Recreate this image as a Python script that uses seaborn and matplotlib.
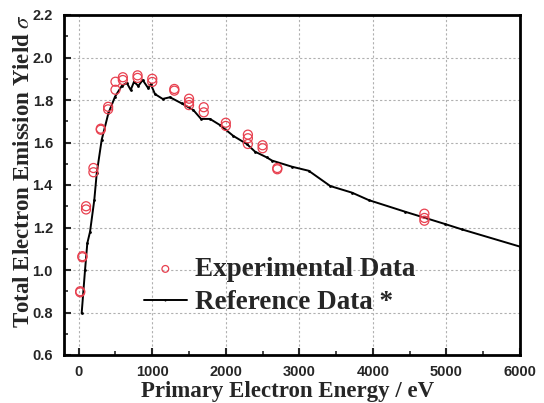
import numpy as np
import pandas as pd
import matplotlib
matplotlib.use("Agg")
import matplotlib.pyplot as plt
import seaborn as sns
from matplotlib.ticker import MultipleLocator

# Experimental data (open red circles)
exp_energy = [20, 20, 50, 50, 100, 100, 200, 200, 300, 300, 400, 400,
              500, 500, 600, 600, 800, 800, 1000, 1000, 1300, 1300,
              1500, 1500, 1500, 1700, 1700, 2000, 2000, 2300, 2300, 2300,
              2500, 2500, 2700, 2700, 4700, 4700, 4700]
exp_yield = [0.90, 0.895, 1.065, 1.06, 1.30, 1.285, 1.48, 1.46, 1.665, 1.66,
             1.768, 1.756, 1.886, 1.848, 1.907, 1.894, 1.916, 1.904, 1.90, 1.885,
             1.852, 1.844, 1.806, 1.79, 1.776, 1.766, 1.742, 1.693, 1.678,
             1.637, 1.62, 1.593, 1.587, 1.573, 1.48, 1.474, 1.265, 1.245, 1.232]

# Reference data (black line)
ref_energy = [40, 86, 117, 154, 212, 245, 312, 403, 494, 585, 653, 707, 752,
              810, 870, 946, 979, 1037, 1142, 1241, 1400, 1558, 1663, 1785,
              1921, 2102, 2285, 2397, 2556, 2628, 2900, 3127, 3421, 3716,
              3943, 4440, 4984, 5211, 6000]
ref_yield = [0.796, 1.0, 1.126, 1.18, 1.33, 1.455, 1.612, 1.737, 1.816, 1.866,
             1.881, 1.847, 1.886, 1.866, 1.894, 1.855, 1.875, 1.828, 1.805,
             1.813, 1.784, 1.753, 1.711, 1.711, 1.682, 1.631, 1.593, 1.557,
             1.530, 1.515, 1.486, 1.467, 1.395, 1.364, 1.329, 1.274, 1.216,
             1.191, 1.110]

x_ticks = [0, 1000, 2000, 3000, 4000, 5000, 6000]
y_ticks = [0.6, 0.8, 1.0, 1.2, 1.4, 1.6, 1.8, 2.0, 2.2]

exp_df = pd.DataFrame({"energy": exp_energy, "yield": exp_yield})
ref_df = pd.DataFrame({"energy": ref_energy, "yield": ref_yield})

sns.set_style("ticks")
plt.rcParams["font.family"] = ["Liberation Sans", "DejaVu Sans"]
plt.rcParams["mathtext.fontset"] = "stix"

fig = plt.figure(figsize=(5.44, 4.03), dpi=100)
ax = fig.add_axes([64 / 544, 1 - 355 / 403, 456 / 544, 340 / 403])

sns.lineplot(data=ref_df, x="energy", y="yield", ax=ax, color="black",
             linewidth=1.4, marker="o", markersize=2, markeredgewidth=0,
             sort=False, estimator=None, label="Reference Data *", zorder=3)
sns.scatterplot(data=exp_df, x="energy", y="yield", ax=ax, s=42,
                facecolors="none", edgecolor="#e8404f", linewidth=0.9,
                marker="o", label="Experimental Data", zorder=4)

ax.set_xlim(-200, 6000)
ax.set_ylim(0.6, 2.2)
ax.set_xticks(x_ticks)
ax.set_yticks(y_ticks)
ax.set_xticklabels([str(t) for t in x_ticks])
ax.set_yticklabels([f"{t:.1f}" for t in y_ticks])
ax.xaxis.set_minor_locator(MultipleLocator(500))
ax.yaxis.set_minor_locator(MultipleLocator(0.1))
ax.tick_params(which="major", direction="in", length=5, width=1.5,
               labelsize=10.5, top=False, right=False)
ax.tick_params(which="minor", direction="in", length=3, width=1.2,
               top=False, right=False)
ax.tick_params(axis="y", which="major", pad=8)
ax.tick_params(axis="x", which="major", pad=7)
for lbl in ax.get_xticklabels() + ax.get_yticklabels():
    lbl.set_fontweight("bold")

ax.grid(True, which="major", linestyle=(0, (2, 2)), color="#b0b0b0",
        linewidth=0.8)
for sp in ax.spines.values():
    sp.set_visible(True)
    sp.set_linewidth(2)
    sp.set_color("black")

serif = {"family": ["Liberation Serif", "DejaVu Serif"], "weight": "bold"}
ax.set_xlabel("Primary Electron Energy / eV", fontdict=dict(serif, size=16.5),
              labelpad=1.5)
ax.set_ylabel(r"Total Electron Emission Yield $\sigma$",
              fontdict=dict(serif, size=16.5), labelpad=-1)
ax.yaxis.label.set_y(0.54)
ax.xaxis.label.set_x(0.49)

handles, labels = ax.get_legend_handles_labels()
order = [labels.index("Experimental Data"), labels.index("Reference Data *")]
leg = ax.legend([handles[i] for i in order], [labels[i] for i in order],
                loc="upper left", bbox_to_anchor=(0.145, 0.328),
                frameon=False, prop={"family": "Liberation Serif",
                                     "weight": "bold", "size": 19.5},
                handlelength=1.6, handletextpad=0.3, labelspacing=0.3,
                borderpad=0, markerscale=0.75)

fig.savefig("out.png", dpi=100)
